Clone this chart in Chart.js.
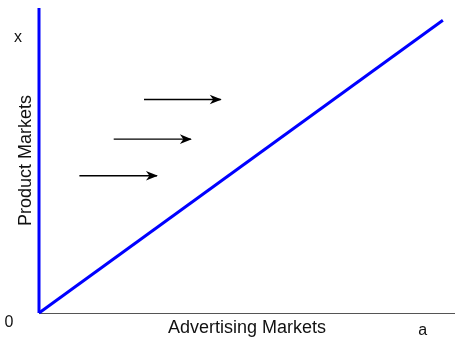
<!DOCTYPE html>
<html>
<head>
<meta charset="utf-8">
<script src="https://cdn.jsdelivr.net/npm/chart.js@4"></script>
<style>
  html, body { margin: 0; padding: 0; background: #fff; }
  #wrap { width: 455px; height: 337px; }
</style>
</head>
<body>
<div id="wrap"><canvas id="marketChart"></canvas></div>
<script>
// line from the origin and the vertical axis line
const diagonalX = [0, 100];
const diagonalY = [0, 96];
const verticalX = [0, 0];
const verticalY = [0, 100];

// arrows: start x, end x, height
const arrowStartX = [26, 18.5, 10];
const arrowEndX = [45, 37.6, 29.2];
const arrowY = [70, 57, 45];

// axis titles and the little labels
const xTitle = "Advertising Markets";
const yTitle = "Product Markets";
const originLabel = "0";
const yMarkLabel = "x";
const yMarkValue = 90;
const xMarkLabel = "a";
const xMarkValue = 95;

const FONT = "'Liberation Sans', Arial, sans-serif";

function toPoints(xs, ys) {
    return xs.map((x, i) => ({ x: x, y: ys[i] }));
}

const datasets = [
    {
        data: toPoints(verticalX, verticalY),
        borderColor: "#0000ff",
        borderWidth: 3,
        pointRadius: 0,
        clip: false
    },
    {
        data: toPoints(diagonalX, diagonalY),
        borderColor: "#0000ff",
        borderWidth: 3,
        pointRadius: 0,
        clip: false
    }
];

arrowY.forEach((y, i) => {
    datasets.push({
        data: [{ x: arrowStartX[i], y: y }, { x: arrowEndX[i], y: y }],
        borderColor: "#000",
        borderWidth: 1.3,
        pointRadius: 0,
        isArrow: true
    });
});

const extras = {
    id: "extras",
    afterDatasetsDraw(chart) {
        const ctx = chart.ctx;
        const xs = chart.scales.x;
        const ys = chart.scales.y;
        const area = chart.chartArea;
        ctx.save();
        // arrow heads
        ctx.fillStyle = "#000";
        chart.data.datasets.forEach((ds, i) => {
            if (!ds.isArrow) return;
            const pts = chart.getDatasetMeta(i).data;
            const tip = pts[pts.length - 1];
            ctx.beginPath();
            ctx.moveTo(tip.x + 1, tip.y);
            ctx.lineTo(tip.x - 11, tip.y - 4.8);
            ctx.lineTo(tip.x - 7.5, tip.y);
            ctx.lineTo(tip.x - 11, tip.y + 4.8);
            ctx.closePath();
            ctx.fill();
        });
        // labels
        ctx.fillStyle = "#111";
        ctx.font = "16px " + FONT;
        ctx.textAlign = "center";
        ctx.textBaseline = "middle";
        ctx.fillText(yMarkLabel, area.left - 21, ys.getPixelForValue(yMarkValue) - 1);
        ctx.fillText(originLabel, area.left - 30, area.bottom + 10);
        ctx.fillText(xMarkLabel, xs.getPixelForValue(xMarkValue), area.bottom + 18);
        ctx.restore();
    }
};

new Chart(document.getElementById("marketChart").getContext("2d"), {
    type: "line",
    data: { datasets: datasets },
    options: {
        responsive: true,
        maintainAspectRatio: false,
        animation: false,
        events: [],
        layout: { padding: { top: 8, right: 0, bottom: 0, left: 0 } },
        plugins: {
            legend: { display: false },
            tooltip: { enabled: false }
        },
        scales: {
            x: {
                type: "linear",
                min: 0,
                max: 103,
                grid: { display: false, drawTicks: false },
                ticks: { display: false },
                border: { display: true, color: "#555", width: 1 },
                title: {
                    display: true,
                    text: xTitle,
                    color: "#111",
                    font: { family: FONT, size: 18, lineHeight: 1 },
                    padding: { top: 0, bottom: 0 }
                },
                afterFit: s => { s.height = 24; }
            },
            y: {
                type: "linear",
                min: 0,
                max: 100,
                grid: { display: false, drawTicks: false },
                ticks: { display: false },
                border: { display: false },
                title: {
                    display: true,
                    text: yTitle,
                    color: "#111",
                    font: { family: FONT, size: 18, lineHeight: 1 },
                    padding: { top: 17, bottom: 0 }
                },
                afterFit: s => { s.width = 39; }
            }
        }
    },
    plugins: [extras]
});
</script>
</body>
</html>
